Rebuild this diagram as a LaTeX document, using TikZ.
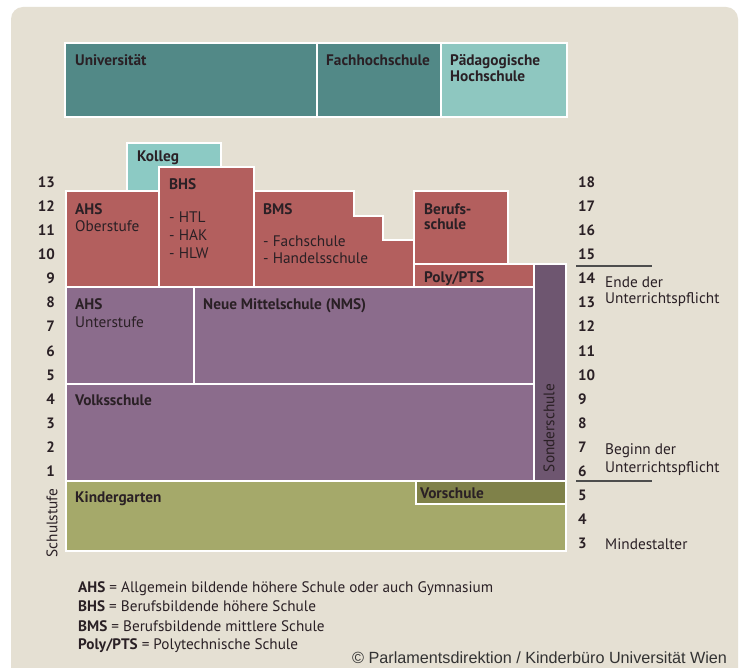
\documentclass[tikz,border=0pt]{standalone}
\usepackage{fontspec}
\setmainfont{PT Sans}
\newfontfamily\arialfont{Liberation Sans}
\definecolor{bgc}{HTML}{E5E0D3}
\definecolor{tealdark}{HTML}{528987}
\definecolor{teallight}{HTML}{8EC7C0}
\definecolor{kolleg}{HTML}{8CCAC4}
\definecolor{redc}{HTML}{B35F5E}
\definecolor{purp}{HTML}{8B6C8C}
\definecolor{sonder}{HTML}{6E5670}
\definecolor{olive}{HTML}{A5A96A}
\definecolor{vorsch}{HTML}{7F8149}
\definecolor{txt}{HTML}{2A2025}
\definecolor{rulec}{HTML}{4D4D4D}
\begin{document}
\begin{tikzpicture}[x=1pt,y=-1pt,
  box/.style={draw=white,line width=2.4pt},
  lbl/.style={anchor=base west,inner sep=0pt,font=\fontsize{15.3}{18}\selectfont\bfseries,text=txt},
  lblr/.style={anchor=base west,inner sep=0pt,font=\fontsize{15.3}{18}\selectfont,text=txt},
  num/.style={inner sep=0pt,font=\fontsize{15}{18}\selectfont\bfseries,text=txt},
  leg/.style={anchor=base west,inner sep=0pt,font=\fontsize{15.2}{18}\selectfont,text=txt},
  rulel/.style={draw=rulec,line width=1.5pt}]
\useasboundingbox (0,0) rectangle (742,668);
\fill[white] (0,0) rectangle (742,668);
\fill[bgc,rounded corners=12pt] (11,7) rectangle (738,690);
% top row
\draw[box,fill=tealdark] (65,43) rectangle (317,117);
\draw[box,fill=tealdark] (317,43) rectangle (441,117);
\draw[box,fill=teallight] (441,43) rectangle (567,117);
% upper secondary
\draw[box,fill=kolleg] (127,143) rectangle (221,193);
\draw[box,fill=redc] (66,191) rectangle (159,287);
\draw[box,fill=redc] (159,167) rectangle (254,287);
\draw[box,fill=redc] (254,191) -- (354,191) -- (354,216) -- (383,216) -- (383,240) -- (414,240) -- (414,287) -- (254,287) -- cycle;
\draw[box,fill=redc] (414,191) rectangle (508,264);
\draw[box,fill=redc] (414,264) rectangle (534,287);
\draw[box,fill=sonder] (534,264) rectangle (566,481);
% lower secondary / primary
\draw[box,fill=purp] (66,287) rectangle (194,384);
\draw[box,fill=purp] (194,287) rectangle (534,384);
\draw[box,fill=purp] (66,384) rectangle (534,481);
% pre-school
\draw[box,fill=olive] (66,481) rectangle (566,551);
\draw[box,fill=vorsch] (416,481) rectangle (566,504);
% labels
\node[lbl] (uni) at (75,65.5) {Universität};
\node[lbl] (fh) at (326,65.5) {Fachhochschule};
\node[lbl] (ph1) at (450,65.5) {Pädagogische};
\node[lbl] (ph2) at (450,81.5) {Hochschule};
\node[lbl] (kol) at (137,161.5) {Kolleg};
\node[lbl] (bhs) at (169,189.5) {BHS};
\node[lblr] (htl) at (169,222.5) {- HTL};
\node[lblr] (hak) at (169,240.5) {- HAK};
\node[lblr] (hlw) at (169,258.5) {- HLW};
\node[lbl] (ahso) at (75,214.5) {AHS};
\node[lblr] (ober) at (75,231.5) {Oberstufe};
\node[lbl] (bms) at (263,214.5) {BMS};
\node[lblr] (fachs) at (263,246.5) {- Fachschule};
\node[lblr] (handel) at (263,263.5) {- Handelsschule};
\node[lbl] (beruf1) at (424,214.5) {Berufs-};
\node[lbl] (beruf2) at (424,229.5) {schule};
\node[lbl] (poly) at (424,282.5) {Poly/PTS};
\node[lbl] (ahsu) at (75,309.5) {AHS};
\node[lblr] (unter) at (75,327.5) {Unterstufe};
\node[lbl] (nms) at (203,309.5) {Neue Mittelschule (NMS)};
\node[lbl] (volks) at (75,405.5) {Volksschule};
\node[lbl] (kiga) at (75,502.5) {Kindergarten};
\node[lbl] (vor) at (420,498.5) {Vorschule};
\node[lblr,anchor=center,rotate=90] (sonderl) at (549,428) {Sonderschule};
\node[lblr,anchor=center,rotate=90] (schulst) at (52,523) {Schulstufe};
% numbers
\foreach \n in {1,...,13} \node[num,anchor=base east] (l\n) at (55,{471-(\n-1)*24.1+5.5}) {\n};
\foreach \n in {3,...,18} \node[num,anchor=base west] (r\n) at (578,{471-(\n-6)*24.1+5.5}) {\n};
% right side notes
\coordinate (a1) at (576,266); \coordinate (a2) at (652,266);
\coordinate (b1) at (576,481); \coordinate (b2) at (652,481);
\draw[rulel] (a1) -- (a2);
\draw[rulel] (b1) -- (b2);
\node[lblr] (ende1) at (605,287.5) {Ende der};
\node[lblr] (ende2) at (605,303.5) {Unterrichtspflicht};
\node[lblr] (beg1) at (605,454.5) {Beginn der};
\node[lblr] (beg2) at (605,472.5) {Unterrichtspflicht};
\node[lblr] (mind) at (605,549.5) {Mindestalter};
% legend
\node[leg] (lg1) at (78,592.5) {\textbf{AHS} = Allgemein bildende höhere Schule oder auch Gymnasium};
\node[leg] (lg2) at (78,611.5) {\textbf{BHS} = Berufsbildende höhere Schule};
\node[leg] (lg3) at (78,631.5) {\textbf{BMS} = Berufsbildende mittlere Schule};
\node[leg] (lg4) at (78,649.5) {\textbf{Poly/PTS} = Polytechnische Schule};
\node[anchor=base west,inner sep=0pt,font=\arialfont\fontsize{16.2}{18}\selectfont,text=black!80] (copy) at (352,663.5) {© Parlamentsdirektion / Kinderbüro Universität Wien};
\end{tikzpicture}
\end{document}
